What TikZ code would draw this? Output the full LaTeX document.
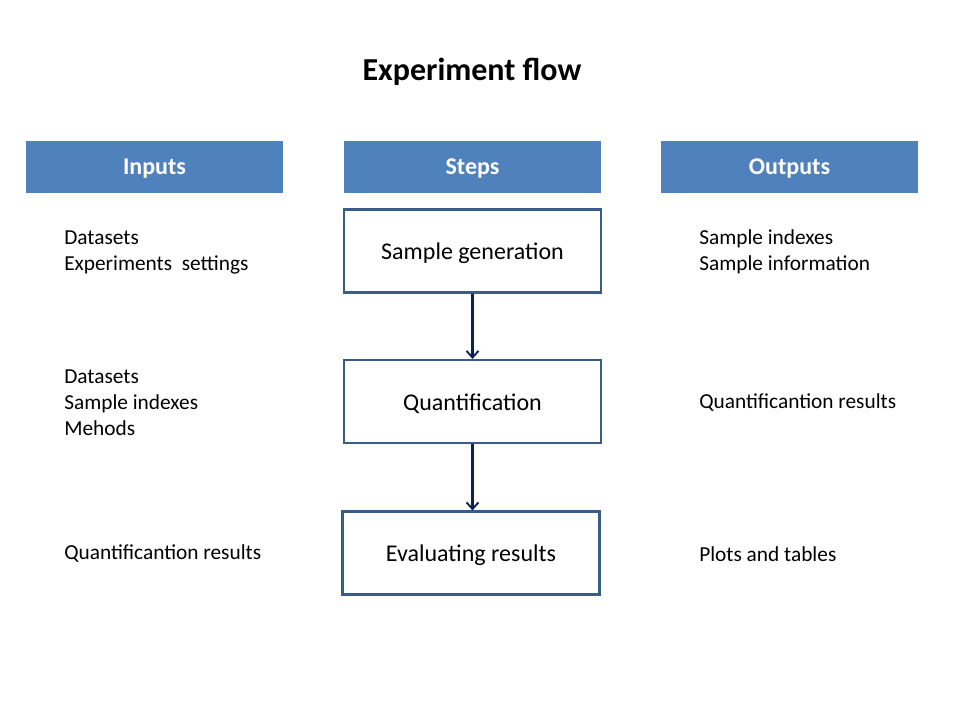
\documentclass[tikz,border=0pt]{standalone}
\usepackage{fontspec}
\setmainfont{Carlito}
\usepackage{xcolor}
\usepackage{tikz}
\usetikzlibrary{arrows.meta}
\usetikzlibrary{positioning}

\definecolor{headblue}{HTML}{4F81BD}
\definecolor{boxblue}{HTML}{385D8A}
\definecolor{arrownavy}{HTML}{0B1F5C}

\tikzset{
  header/.style={rectangle, fill=headblue, text=white, font=\fontsize{18}{21}\selectfont\bfseries,
    minimum width=257*0.75pt, minimum height=52*0.75pt, inner sep=0pt, text height=15pt, text depth=3pt},
  stepbox/.style={rectangle, draw=boxblue, line width=1.6pt, fill=white,
    font=\fontsize{18}{21}\selectfont, minimum width=257*0.75pt, minimum height=83*0.75pt, inner sep=0pt,
    text height=16pt, text depth=3pt},
  info/.style={anchor=west, align=left, inner sep=0pt, font=\fontsize{16}{19.5}\selectfont},
  flow/.style={-{Straight Barb[length=5pt, width=9pt, line width=1.4pt]}, draw=arrownavy, line width=2pt}
}

\begin{document}
\begin{tikzpicture}[x=0.75pt, y=-0.75pt]
 \useasboundingbox (0, 0) rectangle (960, 720);
 % title
 \node [font=\fontsize{24}{29}\selectfont\bfseries] (title) at (472, 72) {Experiment flow};
 % column headers
 \node [header] (inputs) at (154.5, 167) {Inputs};
 \node [header] (steps) at (472.5, 167) {Steps};
 \node [header] (outputs) at (789.5, 167) {Outputs};
 % steps
 \node [stepbox] (gen) at (472.5, 251) {Sample generation};
 \node [stepbox] (quant) at (472.5, 401.5) {Quantification};
 \node [stepbox] (eval) at (471, 553) {Evaluating results};
 \draw [flow] (gen) to (quant);
 \draw [flow] (quant.south -| gen.south) to (eval.north -| gen.south);
 % inputs
 \node [info] (in1) at (64, 252) {Datasets\\Experiments\ \ settings};
 \node [info] (in2) at (64, 402.5) {Datasets\\Sample indexes\\Mehods};
 \node [info] (in3) at (64, 554) {Quantificantion results};
 % outputs
 \node [info] (out1) at (699, 252) {Sample indexes\\Sample information};
 \node [info] (out2) at (699, 403) {Quantificantion results};
 \node [info] (out3) at (699, 554) {Plots and tables};
\end{tikzpicture}
\end{document}
